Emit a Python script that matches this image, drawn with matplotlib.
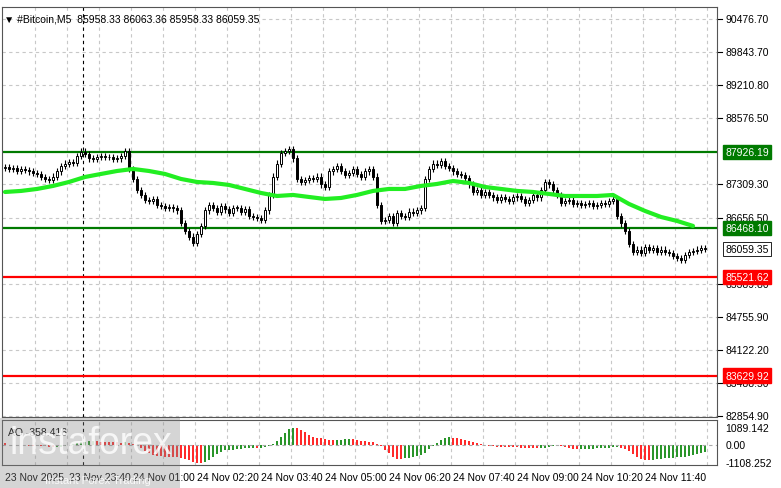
import numpy as np
import pandas as pd
import matplotlib
matplotlib.use("Agg")
import matplotlib.pyplot as plt

plt.rcParams['font.family'] = ['Liberation Sans', 'DejaVu Sans']

closes = [87640,87600,87620,87560,87600,87580,87550,87520,87500,
          87440,87400,87380,87450, 87550,87650,87700,87730,87710,
          87850,87930,87880, 87800,87790,87830, 87850,87830,87820,
          87790,87800,87850,87940, 87600,87400,87200,87100,
          87000,86980,87020,86900, 86880,86850,86870,86840,86800,
          86560,86400,86300,86180, 86350,86500,86800,86900,86850,
          86780,86880,86820,86750,86850, 86850,86780,86820,86700,86680,86650,86620,
          86800,87100,87450,87700, 87900,87940,87980,87800,
          87400,87350,87380,87420,87400,87450, 87300,87250,87550,87600,
          87650,87560,87480,87520,87600,87500, 87450,87550,87600,87450,
          86900,86600,86620,86700,86560, 86750,86700,86680,86780,86760,86800,86850,
          87400,87600,87700,87680,87750, 87650,87620,87550,87500,87480,
          87420,87300,87150,87200, 87100,87150,87100,87050,87000,87050,
          87020,86980,87050,87080,87020, 86950,87000,87100,87050,87200,
          87350,87300,87200, 87100,86950,86980,87000,86930,
          86950,86900,86920,86950, 86880,86900,86950,86920,86980,87020,
          86700,86550,86400,86150, 86000,86050,85980,86100,
          86050,86080,86000,86050, 86000,85980,85930,85880,
          85850,85950,86000, 86020,86050,86070,86059.35]
first_open = 87620
ma_idx = list(range(0, 176, 4))
ma_vals = [87155,87175,87213,87271,87347,87443,87501,87558,87597,87558,87501,87405,
           87347,87328,87290,87213,87136,87078,87098,87059,87021,87040,87098,87175,
           87213,87213,87271,87309,87366,87328,87251,87213,87175,87155,87117,87078,
           87078,87078,87098,86925,86791,86675,86599,86503]
levels_green = [87926.19, 86468.10]
levels_red = [85521.62, 83629.92]
price_ticks = [90476.70, 89843.70, 89210.80, 88576.50, 87309.30, 86656.50, 85389.80,
               84755.90, 84122.20, 83488.50, 82854.90]
tick_labels = ["23 Nov 2025", "23 Nov 23:40", "24 Nov 01:00", "24 Nov 02:20", "24 Nov 03:40",
               "24 Nov 05:00", "24 Nov 06:20", "24 Nov 07:40", "24 Nov 09:00",
               "24 Nov 10:20", "24 Nov 11:40"]

c = np.array(closes, float)
n = len(c)
o = np.concatenate([[first_open], c[:-1]])
hi = np.maximum(o, c) + 60
lo = np.minimum(o, c) - 60
x = np.arange(n)

W, H = 781, 489
fig = plt.figure(figsize=(W/100, H/100), dpi=100)
L, R = 2/W, 717/W
ax = fig.add_axes([L, 1-418/H, R-L, 410/H])
ax2 = fig.add_axes([L, 1-466/H, R-L, 45/H])
xlim = (-0.75, 178)
for a in (ax, ax2):
    a.set_xlim(*xlim)
    a.set_xticks([])
    a.set_yticks([])
    for s in a.spines.values():
        s.set_color("#555555"); s.set_linewidth(0.8)
ax.set_ylim(82834, 90707)
ax2.set_ylim(-1234, 1591)

grid_kw = dict(color="#c8c8c8", lw=0.8, ls=(0, (3, 3)), zorder=0)
for p in price_ticks:
    ax.axhline(p, **grid_kw)
for gx in np.arange(7.5, 178, 8):
    ax.axvline(gx, **grid_kw); ax2.axvline(gx, **grid_kw)
for a in (ax, ax2):
    a.axvline(19.5, color="black", lw=0.8, ls=(0, (3, 3)), zorder=1)

for lv in levels_green:
    ax.axhline(lv, color="#007a00", lw=1.6, zorder=2)
for lv in levels_red:
    ax.axhline(lv, color="#ff0000", lw=1.6, zorder=2)

ax.vlines(x, lo, hi, color="black", lw=0.8, zorder=3)
up = c >= o
bw = 0.7
for i in range(n):
    b0, b1 = min(o[i], c[i]), max(o[i], c[i])
    hgt = max(b1 - b0, 10)
    ax.bar(i, hgt, bottom=b0, width=bw, color="white" if up[i] else "black",
           edgecolor="black", lw=0.7, zorder=4)
ax.plot(ma_idx, ma_vals, color="#22ee22", lw=3, zorder=5, solid_capstyle="round")

med = pd.Series((hi + lo) / 2)
ao = (med.rolling(5, min_periods=1).mean() - med.rolling(34, min_periods=1).mean()).values * 1.2
ao[0] = 150
col = ["#008000" if i > 0 and ao[i] >= ao[i-1] else "#ff0000" for i in range(n)]
ax2.vlines(x, 0, ao, colors=col, lw=1.2)
ax2.axhline(0, color="#aaaaaa", lw=0.8, ls=(0, (3, 3)))

fs = 7.5
tf = dict(fontsize=fs, transform=ax.get_yaxis_transform(), va="center", ha="left")
for p in price_ticks:
    ax.text(1.012, p, f"{p:.2f}", **tf)
    ax.plot([1.0, 1.007], [p, p], color="black", lw=0.8, transform=ax.get_yaxis_transform(), clip_on=False)
for lv in levels_green:
    ax.text(1.012, lv, f"{lv:.2f}", color="white", bbox=dict(boxstyle="square,pad=0.2", fc="#007a00", ec="#007a00"), **tf)
for lv in levels_red:
    ax.text(1.012, lv, f"{lv:.2f}", color="white", bbox=dict(boxstyle="square,pad=0.2", fc="#ff0000", ec="#ff0000"), **tf)
ax.text(1.012, c[-1], f"{c[-1]:.2f}", color="black", bbox=dict(boxstyle="square,pad=0.2", fc="white", ec="black", lw=0.6), **tf)
tf2 = dict(fontsize=fs, transform=ax2.get_yaxis_transform(), va="center", ha="left")
for v, t in [(1089.142, "1089.142"), (0, "0.00"), (-1108.252, "-1108.252")]:
    ax2.text(1.012, v, t, **tf2)

ax.text(0.003, 0.985, "▼ #Bitcoin,M5  85958.33 86063.36 85958.33 86059.35", transform=ax.transAxes,
        fontsize=fs, va="top", ha="left")
ax2.text(0.008, 0.85, "AO -358.416", transform=ax2.transAxes, fontsize=fs, va="top")

for k, t in enumerate(tick_labels):
    xi = k * 16 - 0.5
    fig.text(L + (xi - xlim[0]) / (xlim[1] - xlim[0]) * (R - L) + 2/W, 1 - 478/H, t,
             fontsize=fs, va="center", ha="left")

fig.patches.append(plt.Rectangle((0, 0), 180/W, 70/H, transform=fig.transFigure,
                                 fc="#888888", alpha=0.35, ec="none", zorder=10))
fig.text(10/W, 1-462/H, "instaforex", fontsize=27, color="white", alpha=0.8, va="bottom", ha="left", zorder=11)
fig.text(45/W, 1-481/H, "Instant Forex Trading", fontsize=8, color="white", alpha=0.85, va="center", zorder=11)

fig.savefig("out.png", dpi=100)
